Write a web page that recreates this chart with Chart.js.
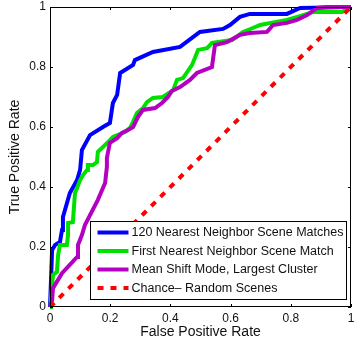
<!DOCTYPE html>
<html>
<head>
<meta charset="utf-8">
<script src="https://cdn.jsdelivr.net/npm/chart.js@4/dist/chart.umd.min.js"></script>
<style>
html,body{margin:0;padding:0;background:#fff;}
#wrap{width:356px;height:345px;position:relative;}
</style>
</head>
<body>
<div id="wrap"><canvas id="c"></canvas></div>
<script>
// ---- data ----
const seriesLabels = [
  "120 Nearest Neighbor Scene Matches",
  "First Nearest Neighbor Scene Match",
  "Mean Shift Mode, Largest Cluster",
  "Chance\u2013 Random Scenes"
];
const tickValues = [0, 0.2, 0.4, 0.6, 0.8, 1];
const tickLabels = ["0", "0.2", "0.4", "0.6", "0.8", "1"];

const nn120 = [
  [0,0],[0.007,0.19],[0.017,0.207],[0.033,0.217],[0.04,0.257],[0.043,0.3],
  [0.066,0.38],[0.09,0.423],[0.1,0.457],[0.106,0.523],[0.133,0.573],[0.176,0.6],
  [0.199,0.613],[0.209,0.68],[0.223,0.707],[0.233,0.78],[0.276,0.807],[0.282,0.823],
  [0.342,0.85],[0.432,0.867],[0.498,0.917],[0.575,0.927],[0.598,0.94],[0.631,0.967],
  [0.664,0.977],[0.787,0.977],[0.831,0.997],[1,1]
];
const nn1 = [
  [0,0],[0.003,0.023],[0.01,0.107],[0.023,0.117],[0.027,0.173],[0.033,0.207],
  [0.056,0.207],[0.06,0.24],[0.06,0.28],[0.076,0.283],[0.083,0.38],[0.09,0.397],
  [0.1,0.423],[0.11,0.44],[0.123,0.457],[0.126,0.473],[0.143,0.473],[0.156,0.483],
  [0.159,0.517],[0.183,0.54],[0.193,0.55],[0.209,0.567],[0.249,0.583],[0.266,0.597],
  [0.276,0.617],[0.289,0.647],[0.309,0.663],[0.322,0.683],[0.342,0.697],[0.375,0.7],
  [0.409,0.723],[0.422,0.757],[0.442,0.763],[0.472,0.807],[0.492,0.857],[0.522,0.863],
  [0.538,0.88],[0.605,0.89],[0.641,0.917],[0.674,0.93],[0.698,0.94],[0.787,0.957],
  [0.841,0.973],[0.874,0.983],[0.97,0.983],[1,1]
];
const meanShift = [
  [0,0],[0.007,0.023],[0.01,0.063],[0.04,0.113],[0.09,0.167],[0.093,0.207],
  [0.106,0.24],[0.116,0.273],[0.159,0.357],[0.183,0.413],[0.189,0.467],[0.189,0.497],
  [0.199,0.547],[0.223,0.563],[0.239,0.58],[0.259,0.59],[0.276,0.6],[0.292,0.633],
  [0.309,0.657],[0.349,0.663],[0.372,0.68],[0.392,0.7],[0.405,0.72],[0.432,0.733],
  [0.465,0.757],[0.488,0.78],[0.538,0.8],[0.548,0.873],[0.588,0.883],[0.631,0.907],
  [0.664,0.913],[0.721,0.917],[0.741,0.94],[0.787,0.947],[0.821,0.957],[0.854,0.973],
  [0.887,0.997],[0.92,1],[1,1]
];
const chance = [[0,0],[1,1]];

const colors = ["#0000FF", "#00E000", "#B400C0", "#FF0000"];
const FONT = "'Liberation Sans', Arial, Helvetica, sans-serif";

const toXY = arr => arr.map(p => ({x: p[0], y: p[1]}));

function ds(i, data, extra) {
  return Object.assign({
    label: seriesLabels[i],
    data: toXY(data),
    showLine: true,
    borderColor: colors[i],
    backgroundColor: colors[i],
    borderWidth: 4,
    pointRadius: 0,
    tension: 0,
    fill: false,
    clip: false,
    order: 4 - i
  }, extra || {});
}

const fmtTick = (v) => {
  const k = tickValues.findIndex(t => Math.abs(t - v) < 1e-9);
  return k >= 0 ? tickLabels[k] : '';
};

// box, inward ticks, legend
const framePlugin = {
  id: 'frame',
  afterDatasetsDraw(chart) {
    const {ctx, chartArea: a, scales: {x, y}} = chart;
    ctx.save();
    ctx.strokeStyle = '#000';
    ctx.lineWidth = 1;
    ctx.strokeRect(Math.round(a.left) + 0.5, Math.round(a.top) + 0.5,
                   Math.round(a.right - a.left) - 1, Math.round(a.bottom - a.top) - 1);
    const tl = 3;
    ctx.beginPath();
    tickValues.forEach(v => {
      const px = Math.round(x.getPixelForValue(v)) + 0.5;
      ctx.moveTo(px, a.bottom); ctx.lineTo(px, a.bottom - tl);
      ctx.moveTo(px, a.top); ctx.lineTo(px, a.top + tl);
      const py = Math.round(y.getPixelForValue(v)) + 0.5;
      ctx.moveTo(a.left, py); ctx.lineTo(a.left + tl, py);
      ctx.moveTo(a.right, py); ctx.lineTo(a.right - tl, py);
    });
    ctx.stroke();

    // legend
    const L = Math.round(a.left + 40) + 0.5, R = Math.round(a.right - 5) + 0.5;
    const B = Math.round(a.bottom - 8) + 0.5, T = B - 78;
    ctx.fillStyle = '#fff';
    ctx.fillRect(L, T, R - L, B - T);
    ctx.strokeStyle = '#000';
    ctx.lineWidth = 1;
    ctx.strokeRect(L, T, R - L, B - T);
    const rows = [11, 29.5, 48, 66.5];
    chart.data.datasets.forEach((d, i) => {
      const yy = T + rows[i];
      ctx.beginPath();
      ctx.strokeStyle = d.borderColor;
      ctx.lineWidth = 4;
      ctx.setLineDash(d.borderDash || []);
      ctx.moveTo(L + 7, yy); ctx.lineTo(L + 38, yy);
      ctx.stroke();
      ctx.setLineDash([]);
      ctx.fillStyle = '#111';
      ctx.font = '12.5px ' + FONT;
      ctx.textBaseline = 'middle';
      ctx.textAlign = 'left';
      ctx.fillText(d.label, L + 41, yy + 0.5);
    });
    ctx.restore();
  }
};

new Chart(document.getElementById('c'), {
  type: 'scatter',
  data: {
    datasets: [
      ds(0, nn120),
      ds(1, nn1),
      ds(2, meanShift),
      ds(3, chance, {borderDash: [6, 7]})
    ]
  },
  options: {
    responsive: true,
    maintainAspectRatio: false,
    animation: false,
    events: [],
    layout: {padding: {top: 7, right: 5, left: 0, bottom: 0}},
    plugins: {legend: {display: false}, tooltip: {enabled: false}},
    scales: {
      x: {
        type: 'linear', min: 0, max: 1,
        afterBuildTicks: s => { s.ticks = tickValues.map(v => ({value: v})); },
        afterFit: s => { s.height = 38; s.paddingLeft = 0; s.paddingRight = 0; },
        grid: {display: false, drawTicks: false},
        border: {display: false},
        ticks: {color: '#111', padding: 4, font: {family: FONT, size: 12}, maxRotation: 0, callback: fmtTick},
        title: {display: true, text: 'False Positive Rate', color: '#111',
                font: {family: FONT, size: 14}, padding: {top: 0, bottom: 4}}
      },
      y: {
        type: 'linear', min: 0, max: 1,
        afterBuildTicks: s => { s.ticks = tickValues.map(v => ({value: v})); },
        afterFit: s => { s.width = 50; s.paddingTop = 0; s.paddingBottom = 0; },
        grid: {display: false, drawTicks: false},
        border: {display: false},
        ticks: {color: '#111', padding: 4, font: {family: FONT, size: 12}, callback: fmtTick},
        title: {display: true, text: 'True Positive Rate', color: '#111',
                font: {family: FONT, size: 14}, padding: {top: 7, bottom: 0}}
      }
    }
  },
  plugins: [framePlugin]
});
</script>
</body>
</html>
